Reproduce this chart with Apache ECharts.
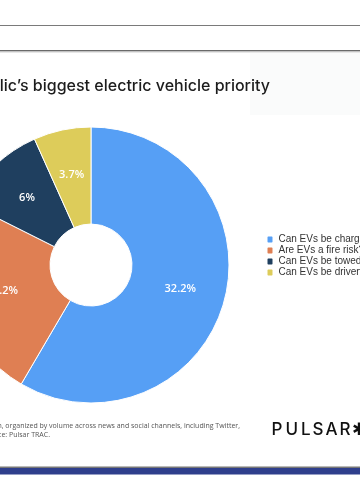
<!DOCTYPE html>
<html>
<head>
<meta charset="utf-8">
<script src="https://cdn.jsdelivr.net/npm/echarts@6/dist/echarts.min.js"></script>
<style>
html,body{margin:0;padding:0;background:#fff;}
#c{width:360px;height:500px;}
</style>
</head>
<body>
<div id="c"></div>
<script>
var categories = ["Can EVs be charged in the rain?", "Are EVs a fire risk?", "Can EVs be towed?", "Can EVs be driven in floods?"];
var values = [32.2, 13.2, 6, 3.7];
var colors = ["#569ff5", "#df7f53", "#1f3f5f", "#ddcc5a"];
var title = "The public\u2019s biggest electric vehicle priority";
var note1 = "Top EV questions by conversation, organized by volume across news and social channels, including Twitter,";
var note2 = "Source: Pulsar TRAC.";
var logoLetters = ["P", "U", "L", "S", "A", "R", "\u2731"];

var logoX = [271.5, 285.5, 301, 312.5, 325.5, 339.5, 351.5];
var logo = logoLetters.map(function (ch, i) {
  return {type: 'text', x: logoX[i], y: 430, style: {text: ch, font: '500 17px "Inter", sans-serif', fill: '#111', textAlign: 'left', textVerticalAlign: 'middle'}};
});

var chart = echarts.init(document.getElementById('c'), null, {renderer: 'canvas'});
chart.setOption({
  backgroundColor: '#ffffff',
  animation: false,
  graphic: [
    {type: 'rect', shape: {x: 250, y: 53, width: 110, height: 62}, style: {fill: '#fafbfb'}, z: -1},
    {type: 'rect', shape: {x: 0, y: 25, width: 360, height: 1}, style: {fill: '#7a7a7a'}},
    {type: 'rect', shape: {x: 0, y: 50, width: 360, height: 1.5}, style: {fill: '#6a6a6a'}},
    {type: 'rect', shape: {x: 0, y: 51.5, width: 360, height: 1}, style: {fill: '#cfcfcf'}},
    {type: 'text', x: 270, y: 86, style: {text: title, font: '500 16px "Inter", sans-serif', fill: '#1c1c1c', textAlign: 'right', textVerticalAlign: 'middle'}},
    {type: 'text', x: 240, y: 426, style: {text: note1, font: '7px "Open Sans", sans-serif', fill: '#555', textAlign: 'right', textVerticalAlign: 'middle'}},
    {type: 'text', x: 50, y: 435, style: {text: note2, font: '7px "Open Sans", sans-serif', fill: '#555', textAlign: 'right', textVerticalAlign: 'middle'}},
    {type: 'rect', shape: {x: 0, y: 466.5, width: 360, height: 1.5}, style: {fill: '#777'}},
    {type: 'rect', shape: {x: 0, y: 468, width: 360, height: 6.5}, style: {fill: '#2f3f8c'}}
  ].concat(logo),
  legend: {
    orient: 'vertical',
    left: 265.5,
    top: 234.5,
    padding: 0,
    itemWidth: 7,
    itemHeight: 8,
    itemGap: 1,
    icon: 'roundRect',
    textStyle: {fontSize: 10, lineHeight: 10, color: '#333', fontFamily: '"Liberation Sans", Arial, sans-serif'},
    data: categories
  },
  series: [{
    type: 'pie',
    center: [91, 265],
    radius: [41, 138],
    startAngle: 90,
    clockwise: true,
    itemStyle: {borderColor: '#ffffff', borderWidth: 1},
    label: {
      position: 'inside',
      color: '#ffffff',
      fontSize: 11,
      fontWeight: 600,
      fontFamily: '"Open Sans", sans-serif',
      formatter: function (p) { return p.value + '%'; }
    },
    labelLine: {show: false},
    data: categories.map(function (c, i) { return {name: c, value: values[i], itemStyle: {color: colors[i]}}; })
  }]
});
</script>
</body>
</html>
